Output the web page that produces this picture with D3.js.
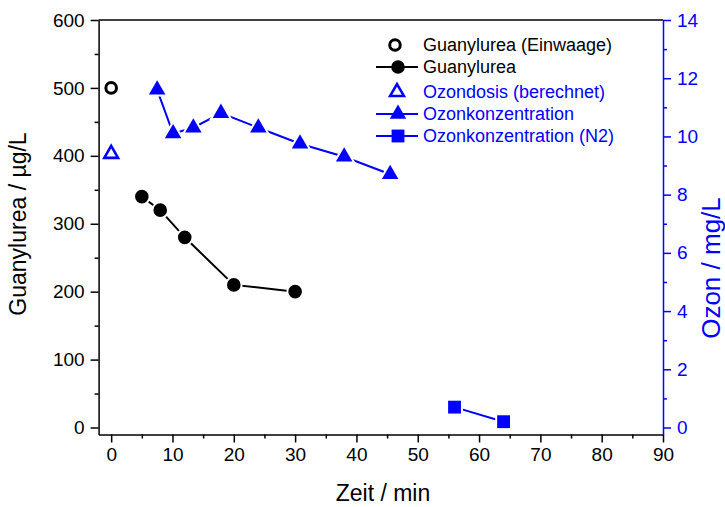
<!DOCTYPE html>
<html><head><meta charset="utf-8">
<script src="https://cdn.jsdelivr.net/npm/d3@7/dist/d3.min.js"></script>
<style>body{margin:0;background:#fff}svg{display:block}text{font-family:"Liberation Sans",Arial,sans-serif}</style>
</head><body><svg id="c" width="725" height="507"></svg>
<script>
// ---- data ----
const einwaageTime = [0];
const einwaageVal = [500];
const guanTime = [5, 8, 12, 20, 30];
const guanVal = [340, 320, 280, 210, 200];
const dosisTime = [0];
const dosisVal = [9.4];
const ozonTime = [7.5, 10.1, 13.4, 17.9, 24, 30.8, 38, 45.5];
const ozonVal = [11.6, 10.1, 10.3, 10.8, 10.3, 9.75, 9.3, 8.7];
const n2Time = [56, 64];
const n2Val = [0.7, 0.2];
const xTicks = [0,10,20,30,40,50,60,70,80,90];
const yLTicks = [0,100,200,300,400,500,600];
const yRTicks = [0,2,4,6,8,10,12,14];
const legendLabels = ["Guanylurea (Einwaage)","Guanylurea","Ozondosis (berechnet)","Ozonkonzentration","Ozonkonzentration (N2)"];

const BLUE = "#0000ff";
const svg = d3.select("#c");
const L = 98.6, R = 663, T = 20, B = 434.5;
const x = d3.scaleLinear().domain([-2.05, 90]).range([L, R]);
const yL = d3.scaleLinear().domain([-10.3, 600]).range([B, T]);
const yR = d3.scaleLinear().domain([-0.24, 14]).range([B, T]);
const TICKFS = 19;

// top frame
svg.append("line").attr("x1",L).attr("x2",R).attr("y1",T).attr("y2",T).attr("stroke","#000").attr("stroke-width",1.5);

function styleAxis(g, color, fs){
  g.selectAll("path.domain").attr("stroke",color).attr("stroke-width",1.5);
  g.selectAll(".tick line").attr("stroke",color).attr("stroke-width",1.5);
  g.selectAll(".tick text").attr("fill",color).style("font-size",fs+"px").style("font-family",'"Liberation Sans",Arial,sans-serif');
}
// bottom axis
const gx = svg.append("g").attr("transform",`translate(0,${B})`)
  .call(d3.axisBottom(x).tickValues(xTicks).tickSize(8).tickSizeOuter(0).tickPadding(5));
styleAxis(gx,"#000",TICKFS);
const gxm = svg.append("g").attr("transform",`translate(0,${B})`)
  .call(d3.axisBottom(x).tickValues(d3.range(5,90,10)).tickSize(4).tickSizeOuter(0).tickFormat(""));
styleAxis(gxm,"#000",TICKFS); gxm.select("path.domain").remove();
// left axis
const gl = svg.append("g").attr("transform",`translate(${L},0)`)
  .call(d3.axisLeft(yL).tickValues(yLTicks).tickSize(8).tickSizeOuter(0).tickPadding(6));
styleAxis(gl,"#000",TICKFS);
const glm = svg.append("g").attr("transform",`translate(${L},0)`)
  .call(d3.axisLeft(yL).tickValues(d3.range(50,600,100)).tickSize(4).tickSizeOuter(0).tickFormat(""));
styleAxis(glm,"#000",TICKFS); glm.select("path.domain").remove();
// right axis
const gr = svg.append("g").attr("transform",`translate(${R},0)`)
  .call(d3.axisRight(yR).tickValues(yRTicks).tickSize(8).tickSizeOuter(0).tickPadding(6));
styleAxis(gr,BLUE,TICKFS);
const grm = svg.append("g").attr("transform",`translate(${R},0)`)
  .call(d3.axisRight(yR).tickValues(d3.range(1,14,2)).tickSize(4).tickSizeOuter(0).tickFormat(""));
styleAxis(grm,BLUE,TICKFS); grm.select("path.domain").remove();

// titles
svg.append("text").attr("x",383).attr("y",501).attr("text-anchor","middle").style("font-size","23px").text("Zeit / min");
svg.append("text").attr("transform","translate(26,224) rotate(-90)").attr("text-anchor","middle").style("font-size","23px").text("Guanylurea / µg/L");
svg.append("text").attr("transform","translate(720,268) rotate(-90)").attr("text-anchor","middle").attr("fill",BLUE).style("font-size","26px").text("Ozon / mg/L");

// series
const line = (xs, ys, sy) => d3.line()(xs.map((t,i)=>[x(t), sy(ys[i])]));
svg.append("path").attr("d",line(guanTime,guanVal,yL)).attr("fill","none").attr("stroke","#000").attr("stroke-width",2);
svg.append("path").attr("d",line(ozonTime,ozonVal,yR)).attr("fill","none").attr("stroke",BLUE).attr("stroke-width",2);
svg.append("path").attr("d",line(n2Time,n2Val,yR)).attr("fill","none").attr("stroke",BLUE).attr("stroke-width",2);

const circ = d3.symbol().type(d3.symbolCircle).size(Math.PI*6.8*6.8)();
const tri = d3.symbol().type(d3.symbolTriangle).size(118)();
const triOpen = d3.symbol().type(d3.symbolTriangle).size(82)();
const sq = d3.symbol().type(d3.symbolSquare).size(165)();

function marks(xs, ys, sy, path, fill, stroke, sw, halo){
  svg.append("g").selectAll("path").data(xs.map((t,i)=>[t,ys[i]])).join("path")
    .attr("d",path).attr("transform",d=>`translate(${x(d[0])},${sy(d[1])})`)
    .attr("fill",fill).attr("stroke",stroke).attr("stroke-width",sw)
    .style("paint-order", halo ? "stroke" : "normal");
}
marks(guanTime,guanVal,yL,circ,"#000","#fff",4,true);
marks(ozonTime,ozonVal,yR,tri,BLUE,"#fff",4,true);
marks(n2Time,n2Val,yR,sq,BLUE,"#fff",4,true);
svg.append("g").selectAll("circle").data(einwaageTime.map((t,i)=>[t,einwaageVal[i]])).join("circle")
  .attr("cx",d=>x(d[0])).attr("cy",d=>yL(d[1])).attr("r",5.3).attr("fill","none").attr("stroke","#000").attr("stroke-width",3);
marks(dosisTime,dosisVal,yR,triOpen,"none",BLUE,2.6,false);

// legend
const lg = svg.append("g");
const ly = [45, 67, 92, 114, 136];
const lcol = ["#000","#000",BLUE,BLUE,BLUE];
const sx = 398, tx = 423;
legendLabels.forEach((lab,i)=>{
  if(i===1||i===3||i===4){
    lg.append("line").attr("x1",376).attr("x2",418).attr("y1",ly[i]).attr("y2",ly[i]).attr("stroke",lcol[i]).attr("stroke-width",2);
  }
  lg.append("text").attr("x",tx).attr("y",ly[i]).attr("dy","0.35em").attr("fill",lcol[i]).style("font-size","18px").text(lab);
});
lg.append("circle").attr("cx",395).attr("cy",ly[0]).attr("r",5.3).attr("fill","none").attr("stroke","#000").attr("stroke-width",3);
lg.append("path").attr("d",circ).attr("transform",`translate(${sx},${ly[1]})`).attr("fill","#000");
lg.append("path").attr("d",triOpen).attr("transform",`translate(${sx-1},${ly[2]})`).attr("fill","none").attr("stroke",BLUE).attr("stroke-width",2.6);
lg.append("path").attr("d",tri).attr("transform",`translate(${sx},${ly[3]})`).attr("fill",BLUE);
lg.append("path").attr("d",sq).attr("transform",`translate(${sx},${ly[4]})`).attr("fill",BLUE);
</script></body></html>
